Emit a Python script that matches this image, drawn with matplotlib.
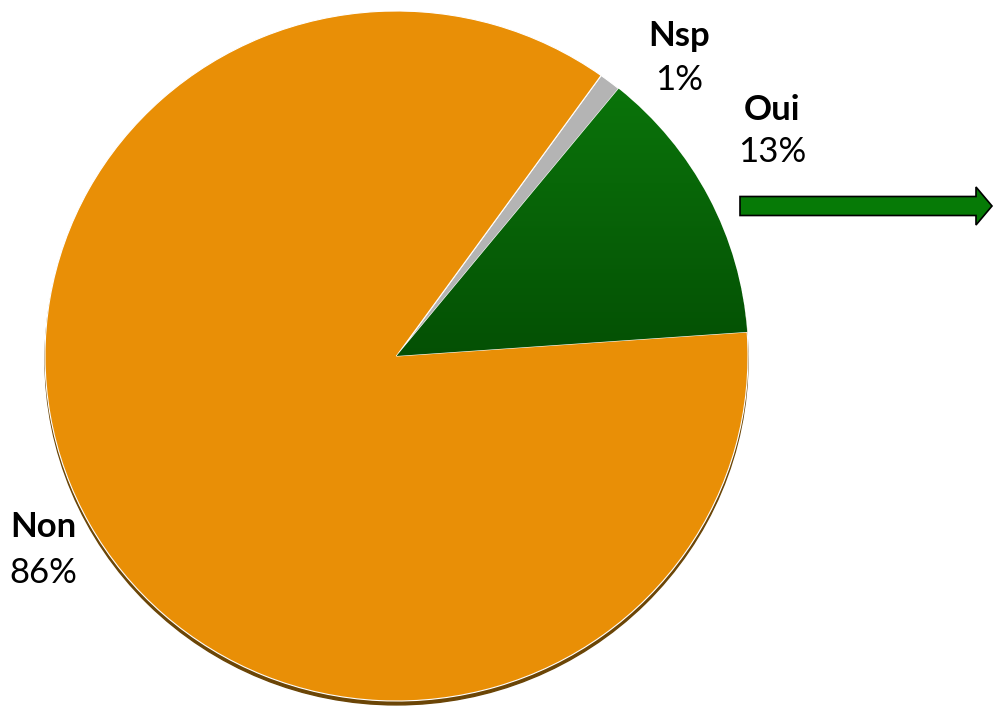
import matplotlib

matplotlib.use("Agg")
import matplotlib.pyplot as plt
import numpy as np
from matplotlib.colors import LinearSegmentedColormap
from matplotlib.patches import Circle, FancyArrow

labels = ["Oui", "Nsp", "Non"]
values = [13, 1, 86]
colors = ["#0a7a0a", "#b4b4b4", "#e98f06"]

W, H = 995, 706
S = 345 / 351.5           # léger écrasement vertical (perspective)
R = 351.5


def py(y_top):
    """pixel depuis le haut -> coordonnée données"""
    return (H - y_top) / S


CX, CY = 396.5, py(356)

fig = plt.figure(figsize=(W / 100, H / 100), dpi=100)
ax = fig.add_axes([0, 0, 1, 1])

# ombre sous le disque
ax.add_patch(Circle((CX, CY - 4), R, color="#6b4506", zorder=0))

wedges, _ = ax.pie(values, colors=colors, startangle=4.0, counterclock=True,
                   center=(CX, CY), radius=R, frame=True,
                   wedgeprops=dict(edgecolor="white", linewidth=0.8))
ax.set_aspect("auto")
ax.axis("off")

# dégradé vert sur la part "Oui"
grad = np.linspace(0, 1, 256).reshape(-1, 1)
cm = LinearSegmentedColormap.from_list("g", ["#045004", "#0c7e0c"])
im = ax.imshow(grad, cmap=cm, extent=(CX, CX + R, CY, CY + R), origin="lower",
               aspect="auto", zorder=3)
im.set_clip_path(wedges[0])
ax.set_xlim(0, W)
ax.set_ylim(0, H / S)

# flèche
ax.add_patch(FancyArrow(740, py(206), 252, 0, width=19 / S, head_width=38 / S,
                        head_length=16, length_includes_head=True,
                        facecolor="#067a06", edgecolor="black", lw=1.2, zorder=4))

font = dict(family=["Lato", "DejaVu Sans"], fontsize=25, ha="center", va="baseline")
ax.text(679, py(46), "Nsp", fontweight="bold", **font)
ax.text(679, py(90), "1%", **font)
ax.text(772, py(120), "Oui", fontweight="bold", **font)
ax.text(772, py(162), "13%", **font)
ax.text(43, py(537), "Non", fontweight="bold", **font)
ax.text(43, py(583), "86%", **font)

fig.savefig("out.png", dpi=100)
